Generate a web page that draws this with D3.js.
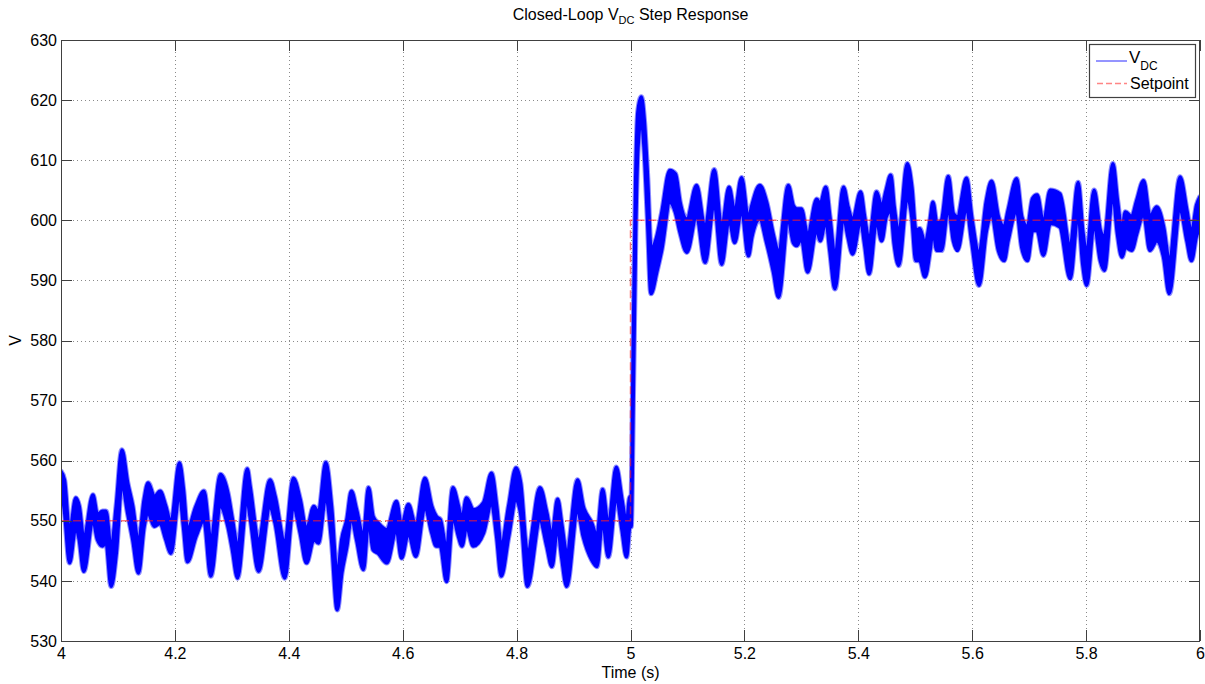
<!DOCTYPE html>
<html>
<head>
<meta charset="utf-8">
<script src="https://cdn.jsdelivr.net/npm/d3@7/dist/d3.min.js"></script>
<style>
  html, body { margin: 0; padding: 0; background: #fff; }
  svg { display: block; font-family: "Liberation Sans", Arial, sans-serif; }
</style>
</head>
<body>
<svg id="chart" width="1205" height="684"></svg>
<script>
// Sample instants (s) where the DC-link voltage band turns (peaks / troughs)
const vdcTime = [
  4.000, 4.006, 4.015, 4.026, 4.032, 4.040, 4.056, 4.064, 4.073, 4.079,
  4.088, 4.097, 4.107, 4.117, 4.126, 4.136, 4.146, 4.153, 4.164, 4.174,
  4.184, 4.193, 4.208, 4.215, 4.222, 4.237, 4.251, 4.263, 4.280, 4.293,
  4.301, 4.310, 4.327, 4.332, 4.347, 4.367, 4.376, 4.393, 4.408, 4.420,
  4.431, 4.444, 4.452, 4.465, 4.475, 4.485, 4.493, 4.502, 4.510, 4.519,
  4.531, 4.540, 4.548, 4.557, 4.572, 4.589, 4.598, 4.610, 4.623, 4.639,
  4.651, 4.659, 4.666, 4.677, 4.688, 4.698, 4.704, 4.712, 4.724, 4.742,
  4.756, 4.765, 4.773, 4.786, 4.799, 4.807, 4.819, 4.841, 4.853, 4.862,
  4.872, 4.879, 4.888, 4.907, 4.917, 4.932, 4.941, 4.951, 4.961, 4.975,
  4.985, 4.993, 4.999, 5.001, 5.005, 5.009, 5.013, 5.019, 5.024, 5.030,
  5.036, 5.046, 5.055, 5.069, 5.079, 5.087, 5.099, 5.116, 5.131, 5.147,
  5.160, 5.173, 5.183, 5.195, 5.207, 5.213, 5.227, 5.239, 5.251, 5.260,
  5.277, 5.286, 5.292, 5.300, 5.311, 5.327, 5.333, 5.343, 5.350, 5.359,
  5.374, 5.382, 5.390, 5.404, 5.411, 5.419, 5.432, 5.441, 5.449, 5.457,
  5.463, 5.471, 5.486, 5.494, 5.501, 5.508, 5.517, 5.526, 5.531, 5.538,
  5.546, 5.558, 5.567, 5.574, 5.590, 5.599, 5.612, 5.625, 5.634, 5.646,
  5.656, 5.663, 5.678, 5.687, 5.697, 5.706, 5.714, 5.725, 5.737, 5.754,
  5.772, 5.786, 5.794, 5.801, 5.814, 5.825, 5.832, 5.847, 5.855, 5.863,
  5.869, 5.880, 5.889, 5.901, 5.912, 5.924, 5.936, 5.946, 5.965, 5.977,
  5.985, 5.994, 6.000
];

// Upper edge of the ripple band (V)
const vdcHigh = [
  558.2, 556.8, 548.0, 553.8, 552.4, 546.9, 554.3, 551.0, 551.6, 551.6,
  545.2, 552.4, 561.8, 556.3, 552.4, 546.3, 553.5, 556.3, 554.0, 554.9,
  552.4, 549.6, 559.6, 555.2, 548.5, 552.4, 554.9, 546.9, 557.7, 554.6,
  550.2, 545.8, 558.6, 555.7, 546.9, 556.8, 554.0, 546.3, 557.1, 553.5,
  548.5, 552.4, 551.3, 559.7, 552.4, 540.8, 546.9, 550.2, 554.9, 551.8,
  547.4, 555.5, 550.7, 549.6, 548.5, 553.2, 549.1, 552.7, 549.1, 557.1,
  552.4, 550.7, 550.2, 545.2, 555.5, 552.4, 550.2, 553.8, 551.8, 553.0,
  557.9, 552.4, 545.8, 552.4, 558.8, 556.3, 544.6, 555.5, 551.3, 547.4,
  553.6, 549.6, 544.6, 556.8, 552.4, 549.6, 547.4, 555.2, 549.1, 558.9,
  553.5, 549.6, 554.0, 553.0, 580.0, 606.0, 618.0, 620.5, 616.8, 607.0,
  595.2, 597.2, 601.3, 608.3, 607.7, 603.0, 600.2, 605.8, 598.6, 608.4,
  598.6, 605.5, 601.3, 607.1, 600.2, 602.4, 605.8, 603.0, 597.5, 594.7,
  605.8, 602.4, 601.9, 601.9, 597.5, 603.5, 602.7, 605.5, 600.6, 593.9,
  605.5, 602.2, 600.0, 604.7, 600.6, 596.6, 604.7, 602.2, 605.0, 607.5,
  602.2, 597.8, 609.4, 605.5, 598.3, 598.6, 596.1, 600.0, 603.0, 599.5,
  600.0, 607.3, 601.1, 600.6, 607.0, 600.6, 594.4, 603.3, 606.5, 600.6,
  598.9, 601.6, 606.9, 600.6, 598.9, 603.6, 604.2, 599.5, 605.0, 604.4,
  595.5, 606.3, 598.3, 594.4, 605.0, 598.3, 597.2, 609.4, 603.3, 598.3,
  601.4, 600.6, 603.3, 606.6, 600.6, 602.2, 598.9, 593.3, 607.2, 601.6,
  597.8, 602.5, 603.9
];

// Lower edge of the ripple band (V)
const vdcLow = [
  555.5, 551.8, 543.0, 549.0, 546.9, 541.6, 550.2, 546.9, 545.8, 546.5,
  539.1, 544.6, 556.3, 551.3, 546.9, 541.3, 549.1, 551.3, 549.1, 549.6,
  546.9, 544.6, 554.6, 549.1, 543.2, 547.4, 550.1, 540.8, 552.4, 549.1,
  545.2, 540.5, 553.5, 550.7, 541.6, 552.4, 549.6, 540.5, 552.4, 548.0,
  543.0, 546.9, 546.3, 554.1, 546.9, 535.2, 541.3, 545.8, 550.7, 546.9,
  541.9, 550.1, 545.2, 544.6, 543.0, 548.5, 543.8, 548.0, 544.1, 552.4,
  548.0, 545.8, 545.8, 539.9, 550.7, 547.4, 545.8, 549.1, 545.8, 548.0,
  553.0, 547.4, 540.8, 547.4, 553.5, 551.3, 539.1, 550.1, 545.8, 542.4,
  549.1, 544.1, 539.1, 551.8, 547.4, 543.5, 542.4, 550.1, 544.0, 554.1,
  548.5, 544.0, 549.1, 549.0, 572.0, 598.0, 612.0, 616.8, 611.9, 600.0,
  587.8, 591.4, 595.2, 603.0, 601.3, 598.0, 594.7, 600.8, 593.0, 603.0,
  592.7, 600.2, 596.3, 601.9, 594.1, 597.2, 600.2, 596.3, 591.4, 587.2,
  600.2, 596.3, 595.8, 597.0, 591.4, 598.6, 596.6, 600.0, 595.0, 588.6,
  600.6, 597.2, 594.4, 600.0, 596.1, 591.1, 600.0, 596.6, 600.6, 601.6,
  596.1, 592.5, 603.9, 600.6, 593.3, 593.3, 590.6, 595.0, 598.3, 595.0,
  595.0, 602.2, 596.6, 595.0, 602.2, 596.6, 589.2, 598.3, 601.1, 595.0,
  593.3, 596.6, 601.6, 595.5, 593.3, 598.3, 598.3, 594.2, 599.5, 598.9,
  590.3, 601.1, 592.8, 589.2, 599.5, 593.3, 591.7, 604.4, 597.8, 593.9,
  595.5, 595.0, 597.8, 601.1, 595.0, 596.6, 593.9, 587.8, 601.9, 596.6,
  593.3, 597.5, 598.3
];

// Reference (setpoint) trajectory
const setpointTime  = [4, 5, 5, 6];
const setpointValue = [550, 550, 600, 600];

// Axis ticks
const xTicks = [4, 4.2, 4.4, 4.6, 4.8, 5, 5.2, 5.4, 5.6, 5.8, 6];
const xTickLabels = ["4", "4.2", "4.4", "4.6", "4.8", "5", "5.2", "5.4", "5.6", "5.8", "6"];
const yTicks = [530, 540, 550, 560, 570, 580, 590, 600, 610, 620, 630];

const svg = d3.select("#chart");
const plotLeft = 61, plotRight = 1200, plotTop = 40, plotBottom = 641;

const x = d3.scaleLinear().domain([4, 6]).range([plotLeft, plotRight]);
const y = d3.scaleLinear().domain([530, 630]).range([plotBottom, plotTop]);

// Dotted grid
const grid = svg.append("g").attr("stroke", "#8a8a8a").attr("stroke-width", 1)
  .attr("stroke-dasharray", "1,3").attr("shape-rendering", "crispEdges");
grid.selectAll("line.gx").data(xTicks.slice(1, -1)).join("line")
  .attr("x1", d => Math.round(x(d)) + 0.5).attr("x2", d => Math.round(x(d)) + 0.5)
  .attr("y1", plotTop).attr("y2", plotBottom);
grid.selectAll("line.gy").data(yTicks.slice(1, -1)).join("line")
  .attr("y1", d => Math.round(y(d)) + 0.5).attr("y2", d => Math.round(y(d)) + 0.5)
  .attr("x1", plotLeft).attr("x2", plotRight);

// Data layer, clipped to the axes box
svg.append("clipPath").attr("id", "plotClip").append("rect")
  .attr("x", plotLeft).attr("y", plotTop)
  .attr("width", plotRight - plotLeft).attr("height", plotBottom - plotTop);
const plot = svg.append("g").attr("clip-path", "url(#plotClip)");

const rows = vdcTime.map((t, i) => ({ t, hi: vdcHigh[i], lo: vdcLow[i] }));

const band = d3.area()
  .curve(d3.curveMonotoneX)
  .x(d => x(d.t))
  .y0(d => y(d.lo))
  .y1(d => y(d.hi));

// Soft light-blue fringe around the ripple band, then the solid band
plot.append("path").datum(rows)
  .attr("d", band)
  .attr("fill", "#7a7aff")
  .attr("stroke", "#8c8cff")
  .attr("stroke-width", 5.5)
  .attr("stroke-linejoin", "round");
plot.append("path").datum(rows)
  .attr("d", band)
  .attr("fill", "#0000ff")
  .attr("stroke", "#0000ff")
  .attr("stroke-width", 3.5)
  .attr("stroke-linejoin", "round");

const sp = setpointTime.map((t, i) => ({ t, v: setpointValue[i] }));
plot.append("path").datum(sp)
  .attr("d", d3.line().x(d => x(d.t)).y(d => y(d.v)))
  .attr("fill", "none")
  .attr("stroke", "#ff2020")
  .attr("stroke-opacity", 0.6)
  .attr("stroke-width", 1.5)
  .attr("stroke-dasharray", "8,4");

// Axes with inward ticks on all four sides
const axisColor = "#404040";
function styleAxis(g) {
  g.select(".domain").remove();
  g.selectAll(".tick line").attr("stroke", axisColor).attr("shape-rendering", "crispEdges");
  g.selectAll("text").attr("fill", "#000").attr("font-size", 16)
    .attr("font-family", "'Liberation Sans', Arial, sans-serif");
}

svg.append("g").attr("transform", `translate(0,${plotBottom})`)
  .call(d3.axisBottom(x).tickValues(xTicks).tickFormat((d, i) => xTickLabels[i])
    .tickSizeInner(-11).tickSizeOuter(0).tickPadding(7))
  .call(styleAxis);

svg.append("g").attr("transform", `translate(0,${plotTop})`)
  .call(d3.axisTop(x).tickValues(xTicks).tickFormat("").tickSizeInner(-11).tickSizeOuter(0))
  .call(styleAxis);

svg.append("g").attr("transform", `translate(${plotLeft},0)`)
  .call(d3.axisLeft(y).tickValues(yTicks).tickFormat(d3.format("d"))
    .tickSizeInner(-11).tickSizeOuter(0).tickPadding(4))
  .call(styleAxis);

svg.append("g").attr("transform", `translate(${plotRight},0)`)
  .call(d3.axisRight(y).tickValues(yTicks).tickFormat("").tickSizeInner(-11).tickSizeOuter(0))
  .call(styleAxis);

// Axes box
svg.append("rect").attr("x", plotLeft + 0.5).attr("y", plotTop + 0.5)
  .attr("width", plotRight - plotLeft - 1).attr("height", plotBottom - plotTop)
  .attr("fill", "none").attr("stroke", axisColor).attr("stroke-width", 1.2)
  .attr("shape-rendering", "crispEdges");

// Title with subscript
const title = svg.append("text")
  .attr("x", (plotLeft + plotRight) / 2).attr("y", 20)
  .attr("text-anchor", "middle").attr("font-size", 16).attr("fill", "#000");
title.append("tspan").text("Closed-Loop V");
title.append("tspan").attr("dy", 4).attr("font-size", 11).text("DC");
title.append("tspan").attr("dy", -4).text(" Step Response");

// Axis labels
svg.append("text").attr("x", (plotLeft + plotRight) / 2).attr("y", 678)
  .attr("text-anchor", "middle").attr("font-size", 16).text("Time (s)");
svg.append("text")
  .attr("transform", `translate(21,${(plotTop + plotBottom) / 2}) rotate(-90)`)
  .attr("text-anchor", "middle").attr("font-size", 16).text("V");

// Legend
const lg = svg.append("g");
lg.append("rect").attr("x", 1089.5).attr("y", 44.5).attr("width", 106).attr("height", 53)
  .attr("fill", "#fff").attr("stroke", axisColor).attr("stroke-width", 1.2);
lg.append("line").attr("x1", 1096).attr("x2", 1127).attr("y1", 61).attr("y2", 61)
  .attr("stroke", "#2a2aff").attr("stroke-width", 1);
const lt = lg.append("text").attr("x", 1129).attr("y", 63).attr("font-size", 17);
lt.append("tspan").text("V");
lt.append("tspan").attr("dy", 7).attr("font-size", 12).text("DC");
lg.append("line").attr("x1", 1097).attr("x2", 1127).attr("y1", 83.5).attr("y2", 83.5)
  .attr("stroke", "#ff2020").attr("stroke-opacity", 0.55).attr("stroke-width", 1.5)
  .attr("stroke-dasharray", "6,3");
lg.append("text").attr("x", 1130).attr("y", 89).attr("font-size", 16).text("Setpoint");
</script>
</body>
</html>
